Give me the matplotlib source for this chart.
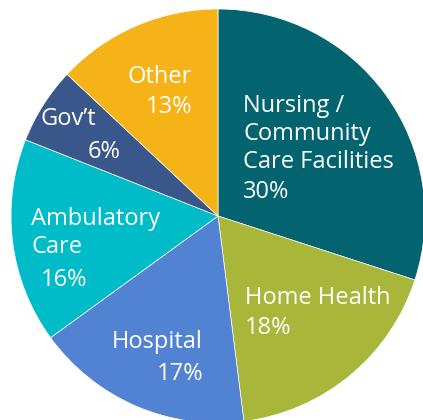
import matplotlib
matplotlib.use('Agg')
import matplotlib.pyplot as plt

# Slice data, clockwise from 12 o'clock
categories = ["Nursing /\nCommunity\nCare Facilities", "Home Health", "Hospital",
              "Ambulatory\nCare", "Gov\u2019t", "Other"]
shares = [30, 18, 17, 16, 6, 13]
colors = ["#03636E", "#A8B63A", "#5282D2", "#00BCC9", "#3A578C", "#F5B317"]

# name anchor, percent anchor (pixel coords from top-left, top of text) and alignment
name_pos = [(243, 94), (245, 286), (203, 330), (31, 207), (40, 107), (192, 65)]
pct_pos = [(243, 180), (245, 316), (203, 362), (41, 268), (88, 140), (192, 95)]
align = ['left', 'left', 'right', 'left', 'left', 'right']

W, H = 423, 420
fig = plt.figure(figsize=(W / 100, H / 100), dpi=100)
ax = fig.add_axes([0, 0, 1, 1])
ax.pie(shares, colors=colors, startangle=90, counterclock=False,
       center=(218, H - 216), radius=207,
       wedgeprops=dict(linewidth=0.5, edgecolor='white'))
ax.set_xlim(0, W)
ax.set_ylim(0, H)
ax.set_aspect('equal')
ax.axis('off')

for cat, val, (nx, ny), (px, py), ha in zip(categories, shares, name_pos, pct_pos, align):
    ax.text(nx, H - ny, cat, ha=ha, va='top', color='white',
            fontsize=17, family='Open Sans', linespacing=1.22)
    ax.text(px, H - py, f"{val}%", ha=ha, va='top', color='white',
            fontsize=17, family='Open Sans')

fig.savefig("out.png", dpi=100)
plt.close(fig)
